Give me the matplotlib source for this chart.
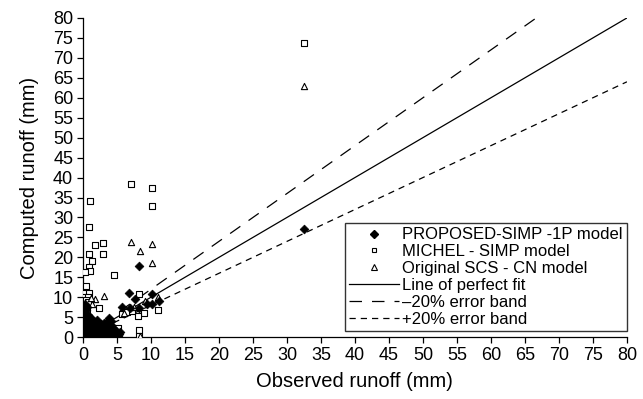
import matplotlib
matplotlib.use("Agg")
import matplotlib.pyplot as plt
from matplotlib.lines import Line2D

plt.rcParams['font.family'] = ['Liberation Sans', 'DejaVu Sans']

# ---- data ----
michel_x = [32.5, 7.0, 10.2, 1.1, 10.2, 0.9, 1.7, 3.0, 0.9, 3.0, 1.3, 0.9, 1.1, 0.25,
            4.5, 0.45, 0.25, 0.9, 0.3, 0.8, 0.4, 0.8, 2.35, 0.1, 0.6, 8.3, 9.0, 11.1,
            8.1, 5.7, 6.5, 7.2, 8.3, 5.1, 8.3, 4.2, 3.0, 1.5, 0.5, 2.0]
michel_y = [73.6, 38.3, 37.4, 34.0, 32.8, 27.6, 23.0, 23.5, 20.9, 20.9, 19.0, 17.6, 16.5, 16.3,
            15.6, 12.8, 11.0, 11.0, 10.1, 10.1, 9.3, 8.8, 7.2, 6.3, 6.5, 10.8, 6.0, 6.7,
            5.3, 5.7, 6.4, 6.6, 1.9, 2.2, 0.3, 0.8, 1.0, 0.5, 2.0, 3.0]

scs_x = [32.5, 7.0, 10.2, 8.4, 10.2, 3.1, 1.7, 1.2, 1.3, 11.1, 9.1, 0.5, 0.3, 8.4,
         4.0, 2.5, 1.0, 3.5, 5.0, 6.0, 7.5, 0.6, 2.0, 4.5]
scs_y = [62.9, 23.9, 23.4, 21.6, 18.7, 10.3, 9.6, 9.8, 8.3, 10.1, 9.1, 8.0, 5.0, 0.2,
         4.5, 2.5, 3.0, 1.5, 1.0, 6.0, 7.5, 1.5, 0.5, 0.3]

prop_x = [32.5, 8.3, 6.7, 7.7, 10.2, 5.7, 6.9, 10.2, 11.2, 8.2, 9.4, 3.9, 4.1, 3.6,
          0.1, 0.2, 0.3, 0.4, 0.5, 0.6, 0.7, 0.8, 0.9, 1.0, 1.1, 1.2, 1.3, 1.4,
          1.5, 1.6, 1.7, 1.8, 1.9, 2.0, 2.1, 2.2, 2.3, 2.4, 2.5, 2.6, 2.7, 2.8,
          2.9, 3.0, 3.1, 3.2, 3.3, 3.4, 3.5, 3.7, 3.8, 4.0, 4.2, 4.4, 4.6, 4.8,
          5.0, 5.2, 5.4, 0.2, 0.4, 0.6, 0.8, 1.0, 1.3, 1.6, 1.9, 2.2, 2.6, 3.0,
          3.4, 3.8, 4.3, 4.9, 0.3, 0.5, 0.7, 1.2, 1.7, 2.4, 2.9, 3.6, 4.5, 5.3,
          0.15, 0.35, 0.55, 0.75, 1.05, 1.5, 2.0, 2.7, 3.2, 4.1, 0.3, 0.6, 0.9]
prop_y = [27.1, 17.9, 11.0, 9.5, 10.7, 7.6, 7.4, 8.3, 9.0, 7.3, 8.4, 4.7, 4.0, 3.5,
          0.5, 1.8, 3.2, 4.5, 2.1, 1.0, 2.8, 0.4, 1.6, 3.0, 2.2, 0.8, 1.5, 2.6,
          0.6, 2.0, 3.1, 1.2, 0.3, 2.4, 1.7, 2.9, 0.9, 1.4, 2.5, 0.2, 1.9, 3.0,
          1.1, 2.3, 3.6, 0.7, 1.8, 2.8, 3.9, 3.3, 2.0, 1.2, 2.6, 1.0, 0.5, 1.6,
          0.8, 0.3, 1.2, 6.0, 5.2, 4.0, 5.6, 4.3, 3.8, 3.4, 2.7, 3.5, 3.3, 0.4,
          1.0, 2.5, 0.2, 0.4, 7.0, 6.8, 3.7, 4.8, 0.2, 0.1, 2.0, 0.6, 2.0, 0.7,
          2.7, 0.9, 1.3, 0.2, 0.1, 4.1, 4.2, 0.5, 1.4, 3.0, 8.2, 7.6, 5.0]

axis_ticks = list(range(0, 85, 5))
fit_x = [0, 80]
band_factors = {'fit': 1.0, 'minus': 1.2, 'plus': 0.8}

# ---- figure ----
fig = plt.figure(figsize=(6.43, 3.99), dpi=100)
ax = fig.add_axes([0.129, 0.155, 0.846, 0.80])

ax.plot(fit_x, [v * band_factors['fit'] for v in fit_x], color='black', lw=0.9,
        zorder=2)
ax.plot(fit_x, [v * band_factors['minus'] for v in fit_x], color='black', lw=0.9,
        dashes=(10, 8), zorder=2)
ax.plot(fit_x, [v * band_factors['plus'] for v in fit_x], color='black', lw=0.9,
        dashes=(5, 4), zorder=2)

ax.scatter(michel_x, michel_y, marker='s', s=16, facecolors='white', edgecolors='black',
           linewidths=0.8, zorder=3)
ax.scatter(scs_x, scs_y, marker='^', s=20, facecolors='white', edgecolors='black',
           linewidths=0.8, zorder=3)
ax.scatter(prop_x, prop_y, marker='D', s=20, facecolors='black', edgecolors='black',
           linewidths=0.5, zorder=4)

ax.set_xlim(0, 80)
ax.set_ylim(0, 80)
ax.set_xticks(axis_ticks)
ax.set_yticks(axis_ticks)
ax.tick_params(axis='both', direction='out', length=4, width=0.9, labelsize=13,
               pad=3, colors='black')
for s in ['top', 'right']:
    ax.spines[s].set_visible(False)
for s in ['left', 'bottom']:
    ax.spines[s].set_linewidth(0.9)

ax.set_xlabel('Observed runoff (mm)', fontsize=14.5, labelpad=6)
ax.set_ylabel('Computed runoff (mm)', fontsize=14.5, labelpad=10)

handles = [
    Line2D([], [], ls='none', marker='D', ms=4, mfc='black', mec='black'),
    Line2D([], [], ls='none', marker='s', ms=3.5, mfc='white', mec='black', mew=0.8),
    Line2D([], [], ls='none', marker='^', ms=4, mfc='white', mec='black', mew=0.8),
    Line2D([], [], color='black', lw=0.9),
    Line2D([], [], color='black', lw=0.9, dashes=(10, 8)),
    Line2D([], [], color='black', lw=0.9, dashes=(5, 4)),
]
labels = ['PROPOSED-SIMP -1P model', 'MICHEL - SIMP model', 'Original SCS - CN model',
          'Line of perfect fit', '\u201320% error band', '+20% error band']
leg = ax.legend(handles, labels, loc='lower right', bbox_to_anchor=(1.0, 0.02),
                fontsize=12, frameon=True, fancybox=False, edgecolor='black',
                handlelength=3.0, handletextpad=0.2, labelspacing=0.11,
                borderpad=0.25, borderaxespad=0.0)
leg.get_frame().set_linewidth(1.0)

fig.savefig('out.png', dpi=100)
